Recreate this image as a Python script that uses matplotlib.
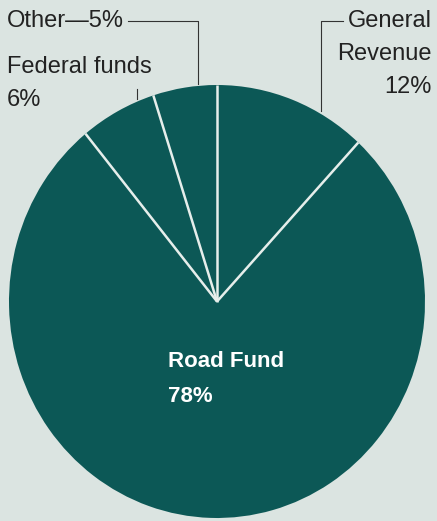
import numpy as np
import matplotlib.pyplot as plt
from matplotlib.lines import Line2D

W, H = 437, 521

# slices, counter-clockwise from 12 o'clock
labels = ["Other", "Federal funds", "Road Fund", "General Revenue"]
shares = [5, 6, 78, 12]

bg = "#dbe4e1"
teal = "#0c5856"
ink = "#222222"

plt.rcParams['font.family'] = ['Liberation Sans', 'DejaVu Sans']

fig = plt.figure(figsize=(W / 100, H / 100), dpi=100, facecolor=bg)


def px(x, y):
    return x / W, 1 - y / H


# pie area in pixels: x 9..425, y 85..518
ax = fig.add_axes([9 / W, 1 - 518 / H, 416 / W, 433 / H])
wedges, _ = ax.pie(shares, colors=[teal] * len(shares), startangle=90,
                   counterclock=True, wedgeprops=dict(linewidth=0))
# light separators between the slices (no outline on the rim)
for w in wedges:
    a = np.deg2rad(w.theta1)
    ax.plot([0, np.cos(a)], [0, np.sin(a)], color="#e6eeeb", lw=1.8,
            solid_capstyle='butt')
ax.set_aspect('auto')
ax.set_xlim(-1, 1)
ax.set_ylim(-1, 1)
ax.axis('off')

fs = 17
# left labels
fig.text(*px(7, 27), "Other\u20145%", fontsize=fs, color=ink, va='baseline', ha='left')
fig.text(*px(7, 73), "Federal funds", fontsize=fs, color=ink, va='baseline', ha='left')
fig.text(*px(7, 106), "6%", fontsize=fs, color=ink, va='baseline', ha='left')
# right labels
fig.text(*px(432, 27), "General", fontsize=fs, color=ink, va='baseline', ha='right')
fig.text(*px(432, 60), "Revenue", fontsize=fs, color=ink, va='baseline', ha='right')
fig.text(*px(432, 93), "12%", fontsize=fs, color=ink, va='baseline', ha='right')
# inside label
fig.text(*px(168, 367), "Road Fund", fontsize=16, fontweight='bold', color='white',
         va='baseline', ha='left')
fig.text(*px(168, 402), "78%", fontsize=16, fontweight='bold', color='white',
         va='baseline', ha='left')


# leader lines
def leader(xs, ys):
    pts = [px(x, y) for x, y in zip(xs, ys)]
    fig.add_artist(Line2D([p[0] for p in pts], [p[1] for p in pts],
                          color="#333333", linewidth=0.8))


leader([128, 198, 198], [21, 21, 84])
leader([137, 137], [89, 99])
leader([343, 321, 321], [21, 21, 111])

fig.savefig("out.png", dpi=100, facecolor=bg)
